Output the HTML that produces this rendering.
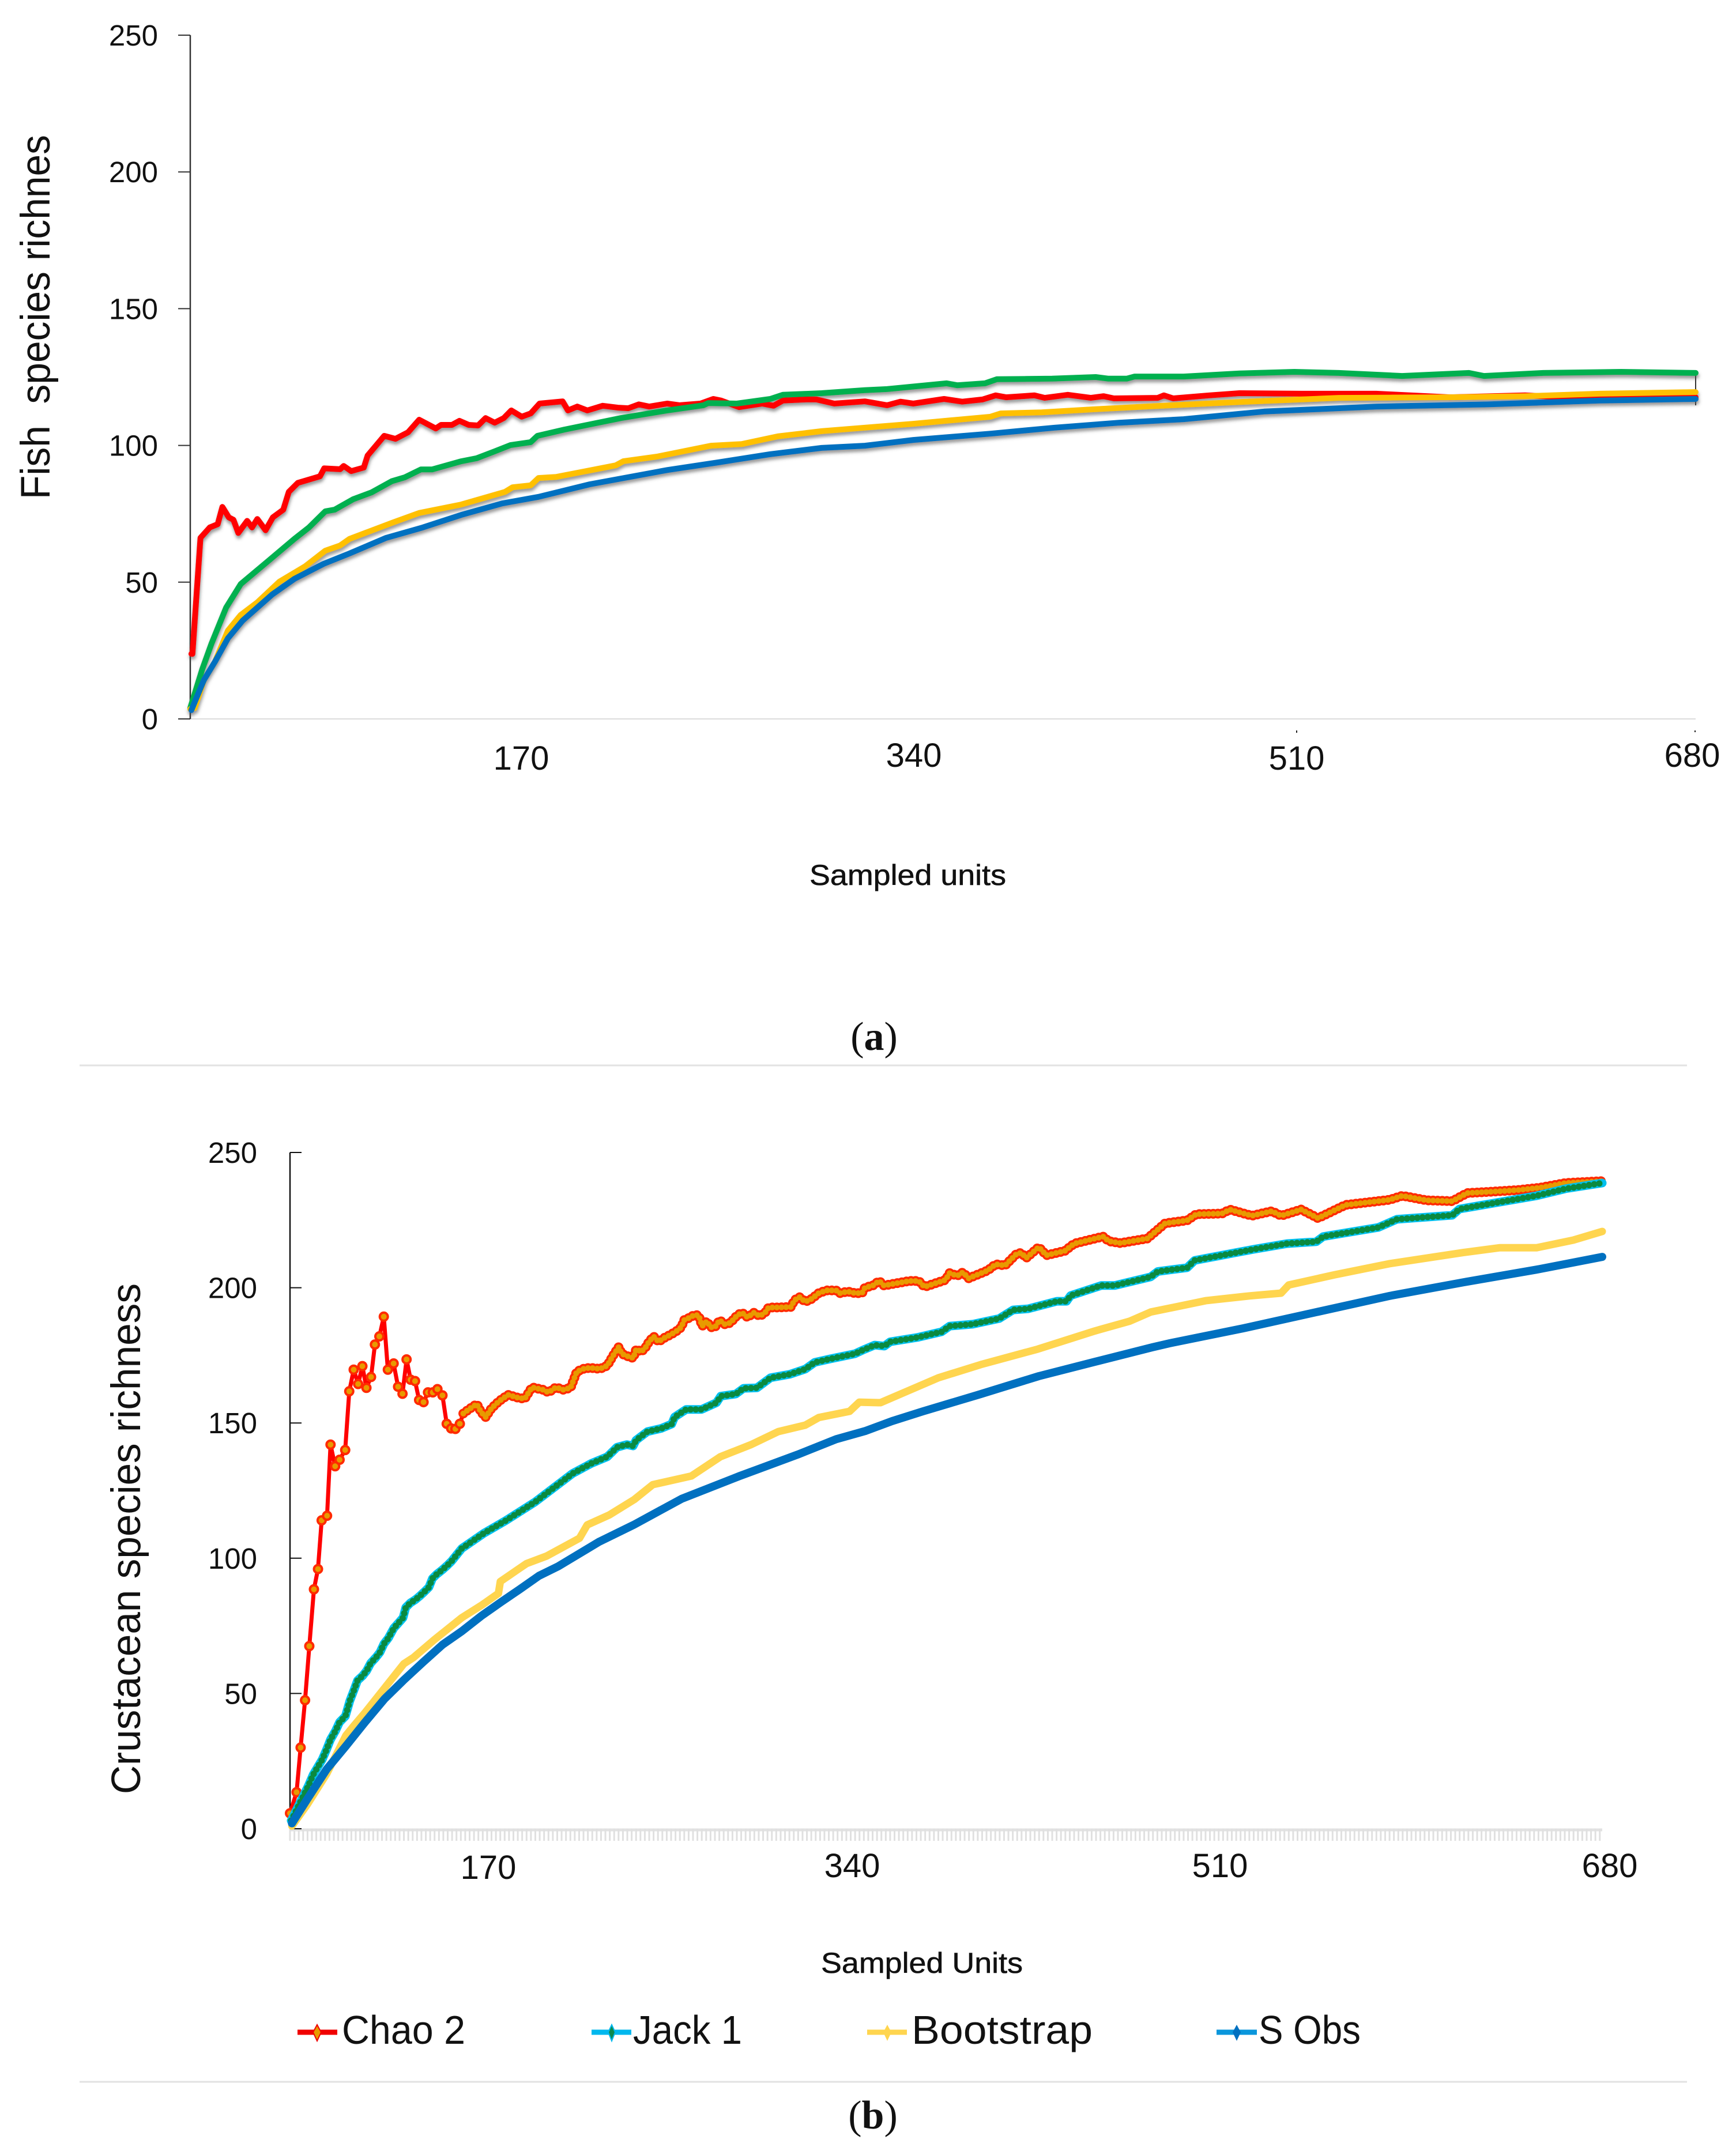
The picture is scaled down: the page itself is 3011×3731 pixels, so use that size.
<!DOCTYPE html>
<html lang="en">
<head>
<meta charset="utf-8">
<title>Species richness accumulation curves</title>
<style>
html,body{margin:0;padding:0;background:#fff;}
#figure{position:absolute;left:0;top:0;display:block;}
text{font-family:"Liberation Sans",sans-serif;fill:#111;}
.serif{font-family:"Liberation Serif",serif;}
.pre{white-space:pre;}
</style>
</head>
<body>
<svg id="figure" xmlns="http://www.w3.org/2000/svg" width="3011" height="3731" viewBox="0 0 3011 3731">
<defs>
<filter id="line-shadow" x="-5%" y="-20%" width="110%" height="140%">
<feDropShadow dx="1" dy="5" stdDeviation="3" flood-color="#555" flood-opacity="0.6"/>
</filter>
</defs>
<rect x="0" y="0" width="3011" height="3731" fill="#fff"/>

<g id="fish-chart">
<line x1="330" y1="1247" x2="2941" y2="1247" stroke="#dcdcdc" stroke-width="2"/>
<line x1="330" y1="61" x2="330" y2="1247" stroke="#333" stroke-width="2.5"/>
<line x1="2941" y1="647" x2="2941" y2="703" stroke="#333" stroke-width="2"/>
<rect x="2248" y="1267" width="2" height="4" fill="#222"/>
<rect x="2939" y="1267" width="2" height="3" fill="#222"/>
<text class="pre" transform="translate(86,866) rotate(-90)" font-size="71" textLength="632" lengthAdjust="spacingAndGlyphs">Fish  species richnes</text>
<text x="904" y="1335" font-size="58" text-anchor="middle">170</text>
<text x="1585" y="1330" font-size="58" text-anchor="middle">340</text>
<text x="2249" y="1335" font-size="58" text-anchor="middle">510</text>
<text x="2935" y="1330" font-size="58" text-anchor="middle">680</text>
<text x="1404" y="1535" font-size="50" textLength="341" lengthAdjust="spacingAndGlyphs" stroke="#111" stroke-width="0.6">Sampled units</text>
</g>

<text class="serif" x="1516" y="1821" font-size="70" text-anchor="middle">(<tspan font-weight="700" class="serif">a</tspan>)</text>
<line x1="138" y1="1848" x2="2926" y2="1848" stroke="#e2e2e2" stroke-width="3"/>

<g id="crustacean-chart">
<line x1="503" y1="3174" x2="2779" y2="3174" stroke="#e2e2e2" stroke-width="5"/>
<g id="crustacean-comb"></g>
<line x1="503" y1="1999" x2="503" y2="3172" stroke="#111" stroke-width="2.5"/>
<text transform="translate(243,3112) rotate(-90)" font-size="71" textLength="886" lengthAdjust="spacingAndGlyphs">Crustacean species richness</text>
<text x="847" y="3259" font-size="58" text-anchor="middle">170</text>
<text x="1478" y="3256" font-size="58" text-anchor="middle">340</text>
<text x="2116" y="3256" font-size="58" text-anchor="middle">510</text>
<text x="2792" y="3256" font-size="58" text-anchor="middle">680</text>
<text x="1424" y="3422" font-size="50" textLength="350" lengthAdjust="spacingAndGlyphs" stroke="#111" stroke-width="0.6">Sampled Units</text>
</g>

<g id="legend">
<g>
<line x1="516" y1="3525" x2="585" y2="3525" stroke="#f00000" stroke-width="9"/>
<polygon points="550,3512 557,3525 550,3540 543,3525" fill="#e89a00" stroke="#f00000" stroke-width="2"/>
<text x="593" y="3545" font-size="70" textLength="214" lengthAdjust="spacingAndGlyphs">Chao 2</text>
</g>
<g>
<line x1="1026" y1="3525" x2="1095" y2="3525" stroke="#00b8ee" stroke-width="9"/>
<polygon points="1061,3512 1067,3525 1061,3540 1055,3525" fill="#0a8a50" stroke="#00b8ee" stroke-width="2"/>
<text x="1098" y="3545" font-size="70" textLength="189" lengthAdjust="spacingAndGlyphs">Jack 1</text>
</g>
<g>
<line x1="1504" y1="3525" x2="1573" y2="3525" stroke="#ffd54f" stroke-width="9"/>
<polygon points="1539,3512 1546,3525 1539,3540 1532,3525" fill="#ffd54f"/>
<text x="1581" y="3545" font-size="70" textLength="314" lengthAdjust="spacingAndGlyphs">Bootstrap</text>
</g>
<g>
<line x1="2110" y1="3525" x2="2180" y2="3525" stroke="#0a96dc" stroke-width="9"/>
<polygon points="2145,3512 2152,3525 2145,3540 2138,3525" fill="#0070c0"/>
<text x="2183" y="3545" font-size="70" textLength="177" lengthAdjust="spacingAndGlyphs">S Obs</text>
</g>
</g>

<line x1="138" y1="3611" x2="2926" y2="3611" stroke="#e2e2e2" stroke-width="3"/>
<text class="serif" x="1514" y="3692" font-size="70" text-anchor="middle">(<tspan font-weight="700" class="serif">b</tspan>)</text>
</svg>

<script>
const yTickValues = [0, 50, 100, 150, 200, 250];

const fishChaoUnits = [0.5,1,4.6,8.8,12.4,14.5,17.4,19.5,21.7,25.7,27.9,30.3,34,37.3,42,44.5,48.6,58.6,60.5,67.7,69.3,72.7,78.4,80.1,87.6,92.7,98.4,103.4,110.9,113.3,118.2,121.6,125.8,130,133.4,137.5,141.6,145,149.7,153.8,157.8,168.2,170.6,174.8,179.4,186.3,193.2,197.9,202.6,207.3,215.4,221.1,230.5,236.3,239.8,247.9,258.3,263.5,267.7,278.1,282.8,290.9,304.7,314.8,320.8,326.6,340.5,348.7,357.9,363.8,368.5,381.3,386,396.4,406.8,412.5,417.2,437,439.8,444,460.2,474,502,535.7,569,602.9,636.5,680];
const fishChaoValues = [23.8,23.8,66.2,70,71.2,77.5,73.7,72.8,68,72.4,70,73.1,69,73.7,76.5,83,86.3,88.7,91.6,91.3,92.5,90.6,91.9,96.3,103.5,102.4,104.8,109.4,106.2,107.5,107.5,109,107.5,107.3,110,108.3,110,112.8,110.5,111.7,115.3,116.1,112.8,114.2,112.8,114.5,113.8,113.6,115,114.2,115.3,114.7,115.3,117,116.4,114,115.3,114.5,116.4,116.8,116.8,115.3,116.1,114.7,116,115.3,117,116,116.8,118.3,117.6,118.3,117.4,118.5,117.4,118,117.2,117.4,118.3,117.2,118.3,119.1,118.9,118.9,117.6,118.3,117,117.6];

const fishJackUnits = [0,5.4,9.6,16.2,22.8,35.3,47,53.6,61,65.2,73.5,81.8,91,96.8,104.2,109.2,122.4,129.3,137.4,144.6,153.8,156.8,169,194.5,215.4,231.8,234,246.9,262,267.7,285.2,304.7,314.8,341.7,346.4,359,364.3,389.3,409,414.8,423,426.6,448.7,474,498.7,518.8,547.4,577.6,584.4,611.2,646.4,680];
const fishJackValues = [4,18.1,27.6,40.7,49.3,57.8,65.8,70,75.9,76.5,80.3,82.8,86.9,88.3,91.2,91.2,94.2,95.3,97.8,100.1,101.2,103.5,105.8,110,112.8,114.7,115.5,115.3,117,118.5,119.1,120.2,120.6,122.7,122,122.7,124.2,124.4,125,124.4,124.4,125.2,125.2,126.3,126.9,126.5,125.4,126.5,125.4,126.5,126.9,126.5];

const fishBootstrapUnits = [0,2,6.2,11.2,17,22.8,30.3,40.3,51.9,61,67.7,71.9,91.8,103.4,122.4,142.2,145.6,153.8,157.3,165.4,192.2,195.6,210.7,235.2,249.2,265.4,285.2,304.7,326.6,361.5,366.1,384.6,407.8,431.3,474,518.8,569,602.9,636.5,680];
const fishBootstrapValues = [3.6,4,14.3,21,32.3,38,42.6,50.2,55.8,61.5,63.4,65.8,71.9,75.3,78.4,83,84.7,85.4,88.1,88.5,92.7,94.2,95.9,99.9,100.5,103.3,105.2,106.5,107.9,110.5,111.7,112.1,113.2,114.2,115.9,117.4,117.6,118,118.9,119.5];

const fishObsUnits = [0.5,6.2,11.2,17,23.7,30.3,37,47,60.2,71.9,88.5,105,122.4,140.9,157.3,180.5,215.4,238.5,262,285.2,304.7,326.6,361.5,390.4,419.5,448.7,485,535.7,586,636.5,680];
const fishObsValues = [3.2,14.3,21,29.5,36,40.7,45.5,51.2,56.7,60.5,66.2,70,74.6,78.8,81.2,85.8,91,93.8,96.8,99.1,99.9,102,104.3,106.5,108.3,109.6,112.4,114.2,115,116.4,117];

const crusChaoUnits = [0,3.4,5.5,7.8,10,12.4,14.5,16.4,19.2,21,23.4,25.7,28.6,30.7,33,35.3,37.5,39.6,42,44,46.3,48.6,50.7,53.7,56,58.3,60.4,62.5,64.8,66.9,69.2,71.5,74,76.4,79,81.2,83.5,85.7,88,89.8,92.6,96.8,99,101.4,104.4,108.2,113,117.8,121.6,125.4,131,134,137.8,141.6,145.4,148.6,153,156.8,160.6,164.4,168,170.3,171.9,174.4,177.9,179.4,182,184.3,186,188.4,191,193.3,197.3,199.8,202.8,204.2,207.3,209.7,211.8,213.6,216,218,220.2,222.6,225.2,228.2,231.6,234.2,237.2,240.2,243.5,246.2,248,253,259.6,261.4,264,267,270.4,274,277.9,283,285,289,292.8,296.4,297.9,302,305.3,307.8,320.9,325.8,328.8,339.7,341.8,345.7,348.7,351.7,361.6,365.7,370.5,376.5,379,381.5,388,392,401.5,406.4,421.3,424.3,430.3,444.3,453.5,464.9,469.7,483,487,498.4,508.8,513.6,524,532.7,547,569.8,576.4,589,602.3,610,623,636.4,648,661,680];
const crusChaoValues = [5.7,13.5,30,47.5,67.5,88.5,96,114,115.7,142,134,136.4,140,161.7,169.7,164.4,171,163,167,179,182,189.3,169.7,172,163.4,160.8,173.5,166,165.5,158.5,157.7,161.3,161.3,162.5,160.2,149.7,148,147.8,149.7,153.5,155,157,154,152.2,155.4,158,160.4,159.4,158.9,163.2,162.3,161.3,163.2,162.3,163,169,170.3,170.3,170,171.2,175.6,178,175.6,174.8,174,177.3,176.3,178,180,182,180,181.2,182.7,183.7,185.4,188,189,190,189.7,185.8,187.6,185.4,185.4,188,186.5,187,189.7,190.8,189,190.8,189.5,190.8,192.7,192.7,192.9,195.4,196.5,194.8,195.9,198,199,199,198,198.6,198,198,200,200.8,202.5,200.8,202.5,202.5,200.3,202.9,205.4,204.4,205.7,203.5,206.4,208.7,208.2,212.5,212.9,211,215,212,213.6,216.3,218.9,217.2,216.5,218.2,223.8,224.9,227.2,227.4,228.9,226.6,228.3,226.6,228.9,225.7,230.6,232.5,234,232.3,232,235,235.5,236.1,237,238.7,239.4];

const crusJackUnits = [0.6,9.6,12,16.7,19,21,23.6,25.7,28.7,31,33,35,37.6,39.7,41.8,44.5,46.6,48.7,51,53.8,56,58.6,60,62.4,64.8,67.2,69.6,72,73.8,75.9,78.9,81.3,83.7,89,100.6,112,127,146.4,156,164.4,169.4,174.5,177.8,179.3,185.2,192.4,197.8,199.3,205.3,213.3,221,223.2,231,235,242,249,259,267,271.9,280,292.8,297,303,308,311,325,337.6,341.8,353.7,367.5,374.7,382.4,397.4,402.4,404.5,420.4,427.3,446,449.7,464.9,468.8,499.3,516.6,531.8,535.4,564,573.6,602.3,606,646,661,680];
const crusJackValues = [3,16,20,25.6,29.4,33,36.2,39.4,41.6,47.3,51,54.8,56.5,58.4,61.2,63.3,65.2,68.4,70.5,74.2,75.9,78,81.8,83.5,84.6,86,87.6,89.3,92.5,94,95.7,97.2,98.9,103.6,109.3,114,120.8,131.3,135,137.5,141,142,141.5,143.6,146.8,148,149.6,152.2,155,155,157.5,159.9,160.7,162.8,163,166.7,168,169.9,172.4,173.7,175.6,177,178.8,178.4,180,181.6,183.7,185.8,186.5,188.6,191.8,192.2,195,195,197.1,200.8,200.8,204,206,207.4,210.1,214.2,216.3,217,218.9,222.3,225.3,226.8,229.1,234,236.6,238.7];

const crusBootstrapUnits = [1,9,19,29,33,39,49,59,64,75,89,99,108,109,119,122.5,133,150,154,165.5,178.4,188,208,223,239,253,267,274,290,295,306,320,336,358,387.5,417,435,446,474.5,497.5,513.6,517.5,541.4,570,608,627,646,665,680];
const crusBootstrapValues = [1,9,20.3,34.5,38,43,52,61,63.3,70,78,82.5,87,91.4,96.3,98,100.8,107.4,112.3,116,121.7,127.2,130.4,137.5,142,146.8,149.2,152,154.3,157.7,157.5,161.8,166.7,171.6,177.3,184,187.6,191,195.2,197,198,201,204.8,208.9,213,214.8,214.8,217.6,220.8];

const crusObsUnits = [1,9,19,29,39,49,59,69,79,89,99,109,119,129,139,146,160,178,203,233,263,283,298,312,328,358,388,417,447,456,494,532,570,608,646,680];
const crusObsValues = [2,11,22,30.6,39.5,48,55,61.6,68,73,78.6,83.6,88.5,93.5,97,100,106,112.3,122,130.4,138.3,144,147,150.7,154.3,160.7,167.3,172.6,178,179.5,185,191,197,202,206.7,211.4];

const UNIT_MAX = 680;
const VALUE_MAX = 250;
const CHAO_DOTS_FROM = 89;
const COMB_STEP = 2.27;

function fishX(n) { return 330 + n * (2941 - 330) / UNIT_MAX; }
function fishY(v) { return 1247 - v * (1247 - 61) / VALUE_MAX; }
function crusX(n) { return 503 + n * (2779 - 503) / UNIT_MAX; }
function crusY(v) { return 3172 - v * (3172 - 1999) / VALUE_MAX; }

const NS = 'http://www.w3.org/2000/svg';
function make(tag, parent, attrs) {
  const el = document.createElementNS(NS, tag);
  for (const k in attrs) el.setAttribute(k, attrs[k]);
  parent.appendChild(el);
  return el;
}
function pathFrom(units, values, xf, yf) {
  return units.map(function (n, i) {
    return (i ? 'L' : 'M') + xf(n).toFixed(1) + ' ' + yf(values[i]).toFixed(1);
  }).join(' ');
}
function strokeStyle(color, width) {
  return { fill: 'none', stroke: color, 'stroke-width': width, 'stroke-linejoin': 'round', 'stroke-linecap': 'round' };
}
function dotted(color, width, gap) {
  const s = strokeStyle(color, width);
  s['stroke-dasharray'] = '0 ' + gap;
  return s;
}

/* y-axis ticks and labels */
const fishChart = document.getElementById('fish-chart');
const crusChart = document.getElementById('crustacean-chart');
yTickValues.forEach(function (v) {
  const t1 = make('line', fishChart, { x1: 309, x2: 330, y1: fishY(v), y2: fishY(v), stroke: '#333', 'stroke-width': 2 });
  
  
  const l1 = make('text', fishChart, { x: 274, y: fishY(v) + 18, 'font-size': 51, 'text-anchor': 'end' });
  l1.textContent = String(v);
  
  
  const t2 = make('line', crusChart, { x1: 503, x2: 523, y1: crusY(v), y2: crusY(v), stroke: '#111', 'stroke-width': 2 });
  
  
  const l2 = make('text', crusChart, { x: 446, y: crusY(v) + 18, 'font-size': 51, 'text-anchor': 'end' });
  l2.textContent = String(v);
  
  
});

/* crustacean comb */
const comb = document.getElementById('crustacean-comb');
for (let n = 0; n <= UNIT_MAX; n += COMB_STEP) {
  const c = make('line', comb, { x1: crusX(n), x2: crusX(n), y1: 3172, y2: 3193, stroke: '#e0e0e0', 'stroke-width': 3 });
  
  
}

/* fish series */
const fishLines = make('g', fishChart, { filter: 'url(#line-shadow)' });



const fishChao = make('path', fishLines, Object.assign({ d: pathFrom(fishChaoUnits, fishChaoValues, fishX, fishY) }, strokeStyle('#ff0000', 10)));



const fishJack = make('path', fishLines, Object.assign({ d: pathFrom(fishJackUnits, fishJackValues, fishX, fishY) }, strokeStyle('#00b050', 10)));



const fishBoot = make('path', fishLines, Object.assign({ d: pathFrom(fishBootstrapUnits, fishBootstrapValues, fishX, fishY) }, strokeStyle('#ffc000', 10)));



const fishObs = make('path', fishLines, Object.assign({ d: pathFrom(fishObsUnits, fishObsValues, fishX, fishY) }, strokeStyle('#0070c0', 10)));



/* crustacean series */
const crusChaoLine = make('path', crusChart, Object.assign({ d: pathFrom(crusChaoUnits, crusChaoValues, crusX, crusY) }, strokeStyle('#ff0000', 7)));



crusChaoUnits.forEach(function (n, i) {
  if (n >= CHAO_DOTS_FROM) return;
  const m = make('circle', crusChart, { cx: crusX(n), cy: crusY(crusChaoValues[i]), r: 7, fill: '#e89a00', stroke: '#ff2a00', 'stroke-width': 4 });
  
  
});

const lateUnits = crusChaoUnits.filter(function (n) { return n >= CHAO_DOTS_FROM; });
const lateValues = crusChaoValues.filter(function (v, i) { return crusChaoUnits[i] >= CHAO_DOTS_FROM; });
const chaoRing = make('path', crusChart, Object.assign({ d: pathFrom(lateUnits, lateValues, crusX, crusY) }, dotted('#ff2a00', 17, 8)));


const chaoDots = make('path', crusChart, Object.assign({ d: pathFrom(lateUnits, lateValues, crusX, crusY) }, dotted('#e89a00', 10, 8)));



const crusJackLine = make('path', crusChart, Object.assign({ d: pathFrom(crusJackUnits, crusJackValues, crusX, crusY) }, strokeStyle('#00c0ee', 15)));


const jackDots = make('path', crusChart, Object.assign({ d: pathFrom(crusJackUnits, crusJackValues, crusX, crusY) }, dotted('#0a8a40', 11, 9)));



const crusBootLine = make('path', crusChart, Object.assign({ d: pathFrom(crusBootstrapUnits, crusBootstrapValues, crusX, crusY) }, strokeStyle('#ffd54f', 13)));



const crusObsLine = make('path', crusChart, Object.assign({ d: pathFrom(crusObsUnits, crusObsValues, crusX, crusY) }, strokeStyle('#0070c0', 14)));


</script>
</body>
</html>
